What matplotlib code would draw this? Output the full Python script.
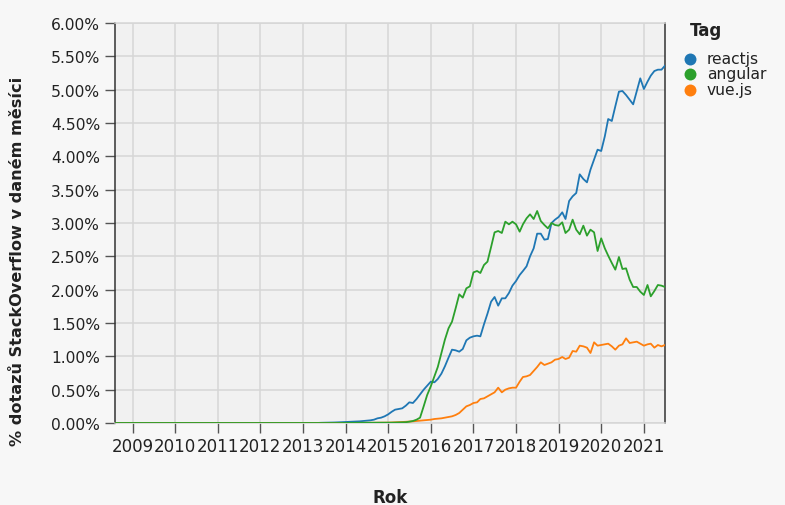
import numpy as np
import pandas as pd
import matplotlib
matplotlib.use("Agg")
import matplotlib.pyplot as plt
import matplotlib.dates as mdates
from matplotlib.lines import Line2D

# ---- data (% of StackOverflow questions per month), monthly from 2008-08 ----
start_month = "2008-08-01"
tags = ["reactjs", "angular", "vue.js"]
colors = ["#1f77b4", "#2ca02c", "#ff7f0e"]

reactjs = ([0.0] * 5 + [0.0] * 48 +
           [0, 0, 0, 0, 0, 0.003, 0.004, 0.005, 0.006, 0.008, 0.010, 0.012] +          # 2013
           [0.015, 0.018, 0.020, 0.022, 0.025, 0.030, 0.035, 0.040, 0.050, 0.070, 0.080, 0.100] +  # 2014
           [0.13, 0.17, 0.20, 0.21, 0.22, 0.26, 0.31, 0.30, 0.36, 0.43, 0.50, 0.56] +   # 2015
           [0.62, 0.61, 0.66, 0.74, 0.85, 0.98, 1.10, 1.09, 1.07, 1.11, 1.24, 1.28] +   # 2016
           [1.30, 1.31, 1.30, 1.48, 1.64, 1.82, 1.89, 1.76, 1.87, 1.87, 1.95, 2.06] +   # 2017
           [2.13, 2.22, 2.28, 2.35, 2.50, 2.62, 2.84, 2.84, 2.75, 2.76, 3.00, 3.05] +   # 2018
           [3.09, 3.16, 3.06, 3.33, 3.40, 3.45, 3.73, 3.66, 3.61, 3.80, 3.95, 4.10] +   # 2019
           [4.08, 4.30, 4.56, 4.53, 4.75, 4.97, 4.98, 4.92, 4.85, 4.78, 4.98, 5.17] +   # 2020
           [5.01, 5.12, 5.21, 5.28, 5.30, 5.30, 5.36])                                  # 2021

angular = ([0.0] * 5 + [0.0] * 60 +
           [0.002, 0.002, 0.003, 0.003, 0.003, 0.004, 0.004, 0.004, 0.005, 0.005, 0.005, 0.005] +  # 2014
           [0.005, 0.005, 0.007, 0.008, 0.010, 0.012, 0.02, 0.03, 0.05, 0.08, 0.25, 0.42] +  # 2015
           [0.55, 0.70, 0.84, 1.05, 1.25, 1.42, 1.52, 1.72, 1.93, 1.88, 2.02, 2.05] +   # 2016
           [2.26, 2.28, 2.25, 2.37, 2.42, 2.64, 2.86, 2.88, 2.85, 3.02, 2.98, 3.02] +   # 2017
           [2.98, 2.87, 2.98, 3.07, 3.13, 3.06, 3.18, 3.03, 2.97, 2.92, 3.00, 2.97] +   # 2018
           [2.96, 3.01, 2.85, 2.90, 3.05, 2.90, 2.83, 2.96, 2.81, 2.90, 2.86, 2.58] +   # 2019
           [2.77, 2.62, 2.51, 2.40, 2.30, 2.49, 2.31, 2.32, 2.15, 2.04, 2.04, 1.97] +   # 2020
           [1.92, 2.07, 1.90, 1.98, 2.07, 2.06, 2.04])                                  # 2021

vuejs = ([0.0] * 5 + [0.0] * 60 +
         [0.001, 0.001, 0.001, 0.002, 0.002, 0.002, 0.003, 0.003, 0.004, 0.004, 0.005, 0.005] +  # 2014
         [0.006, 0.008, 0.010, 0.012, 0.015, 0.018, 0.020, 0.025, 0.030, 0.035, 0.040, 0.045] +  # 2015
         [0.05, 0.06, 0.065, 0.07, 0.08, 0.09, 0.10, 0.12, 0.15, 0.20, 0.25, 0.27] +  # 2016
         [0.30, 0.31, 0.36, 0.37, 0.40, 0.43, 0.46, 0.53, 0.46, 0.50, 0.52, 0.53] +  # 2017
         [0.53, 0.62, 0.69, 0.70, 0.72, 0.78, 0.84, 0.91, 0.87, 0.89, 0.91, 0.95] +  # 2018
         [0.96, 0.99, 0.96, 0.98, 1.08, 1.07, 1.16, 1.15, 1.13, 1.05, 1.21, 1.16] +  # 2019
         [1.17, 1.18, 1.19, 1.15, 1.10, 1.16, 1.18, 1.27, 1.20, 1.21, 1.22, 1.19] +  # 2020
         [1.16, 1.18, 1.19, 1.13, 1.17, 1.15, 1.17])                                # 2021

series = {"reactjs": reactjs, "angular": angular, "vue.js": vuejs}
y_ticks = [0.0, 0.5, 1.0, 1.5, 2.0, 2.5, 3.0, 3.5, 4.0, 4.5, 5.0, 5.5, 6.0]

x_title = "Rok"
y_title = "% dotazů StackOverflow v daném měsíci"
legend_title = "Tag"

# ---- figure ----
W, H = 785, 506
fig = plt.figure(figsize=(W / 100, H / 100), dpi=100)
fig.patch.set_facecolor("#f7f7f7")

L, R, T, B = 114.8, 665.0, 24.0, 424.0
ax = fig.add_axes([L / W, 1 - B / H, (R - L) / W, (B - T) / H])
ax.set_facecolor("#f1f1f1")

dates = pd.date_range(start_month, periods=len(reactjs), freq="MS")
draw_order = ["reactjs", "vue.js", "angular"]
cmap = dict(zip(tags, colors))
for name in draw_order:
    ax.plot(dates, series[name], color=cmap[name], lw=1.3, solid_joinstyle="round", zorder=3)

ax.set_xlim(dates[0], dates[-1])
ax.set_ylim(0, 6)
ax.set_yticks(y_ticks)
ax.yaxis.set_major_formatter(plt.FuncFormatter(lambda v, p: f"{v:.2f}%"))
ax.xaxis.set_major_locator(mdates.YearLocator())
ax.xaxis.set_major_formatter(mdates.DateFormatter("%Y"))

grid_c = "#d6d6d6"
ax.grid(True, color=grid_c, lw=1.1, zorder=0)
ax.set_axisbelow(True)
for s in ["top", "bottom"]:
    ax.spines[s].set_color(grid_c)
    ax.spines[s].set_linewidth(1.1)
for s in ["left", "right"]:
    ax.spines[s].set_color("#333333")
    ax.spines[s].set_linewidth(1.1)

lab_c = "#222222"
ax.tick_params(axis="both", length=7, width=1.0, color="#555555",
               labelcolor=lab_c, pad=3.5)
ax.tick_params(axis="y", labelsize=11.2)
ax.tick_params(axis="x", labelsize=12.0, pad=3.0)

# axis titles
fig.text(390 / W, 1 - 498 / H, x_title, ha="center", va="center",
         fontsize=12, fontweight="bold", color=lab_c)
fig.text(18 / W, 1 - 261 / H, y_title, ha="center", va="center", rotation=90,
         fontsize=11.6, fontweight="bold", color=lab_c)

# legend
fig.text(690 / W, 1 - 31.5 / H, legend_title, ha="left", va="center",
         fontsize=12, fontweight="bold", color=lab_c)
ys = [59.5, 75.0, 90.5]
for name, yy in zip(tags, ys):
    fig.add_artist(Line2D([690 / W], [1 - yy / H], marker="o", ms=8.6, mew=0,
                          color=cmap[name], transform=fig.transFigure))
    fig.text(707 / W, 1 - yy / H, name, ha="left", va="center",
             fontsize=11.2, color=lab_c)

fig.savefig("out.png", dpi=100, facecolor=fig.get_facecolor())
